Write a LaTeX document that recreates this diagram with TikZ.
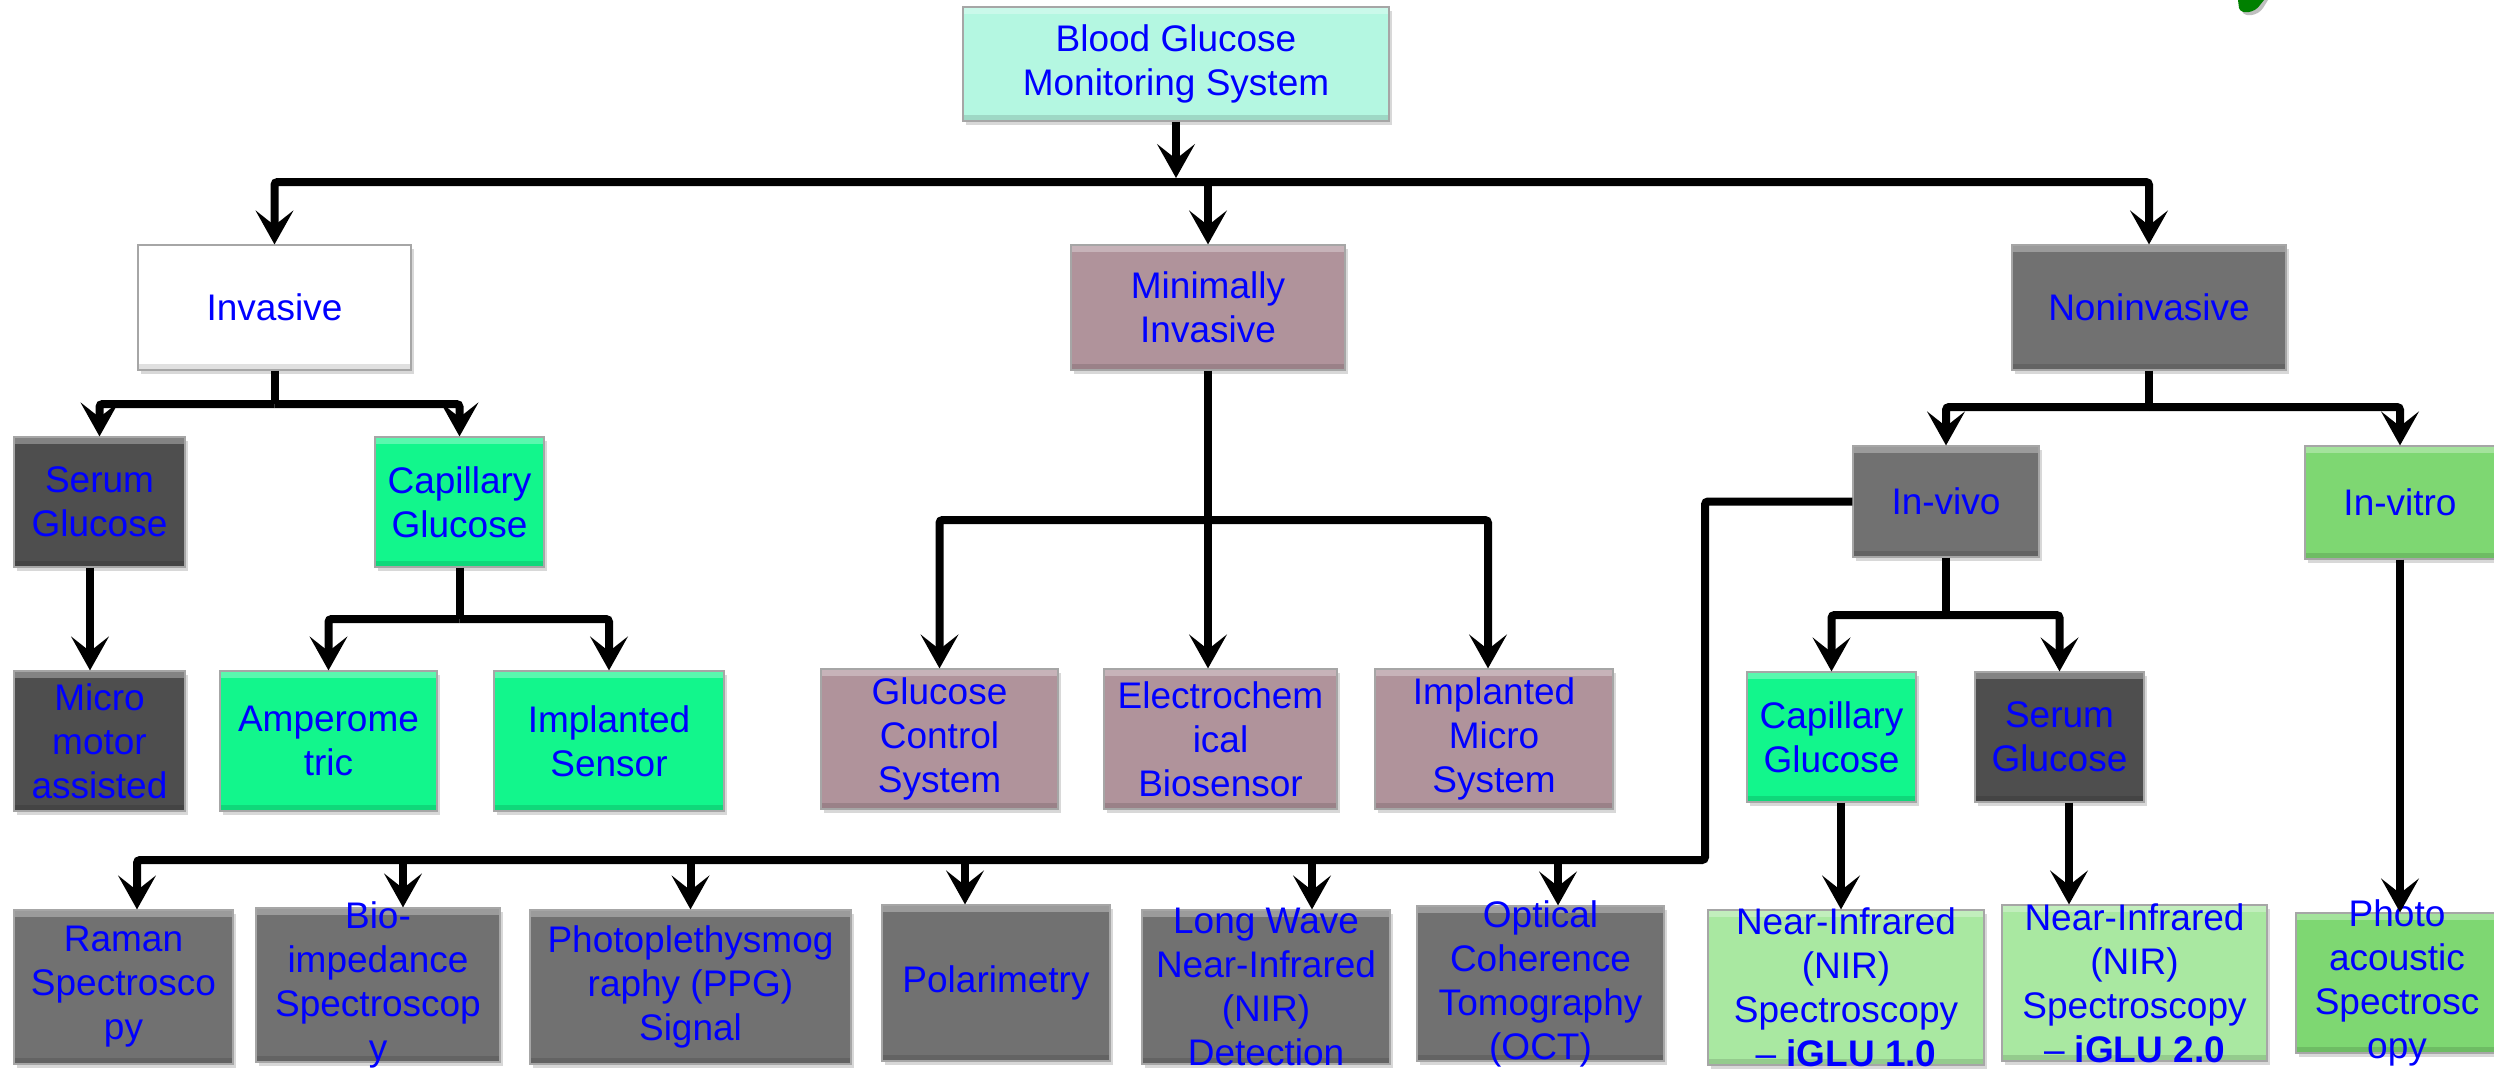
\documentclass[tikz,border=0pt]{standalone}
\usepackage{fontspec}
\setmainfont{Liberation Sans}
\usetikzlibrary{arrows.meta,shadows}

\definecolor{txtblue}{RGB}{0,0,255}
\definecolor{mint}{RGB}{180,247,225}
\definecolor{mauve}{RGB}{176,147,155}
\definecolor{midgray}{RGB}{113,113,113}
\definecolor{deepgray}{RGB}{78,78,78}
\definecolor{vividgreen}{RGB}{18,246,140}
\definecolor{palegreen}{RGB}{169,232,161}
\definecolor{leafgreen}{RGB}{126,215,114}
\definecolor{logogreen}{RGB}{0,128,0}

\tikzset{
  bx/.style={rectangle, draw=black!35, line width=1.2pt, inner sep=0pt,
    drop shadow={shadow xshift=3pt, shadow yshift=-4pt, opacity=0.3},
    path picture={
      \fill[white, opacity=0.3] (path picture bounding box.north west)
        rectangle ([yshift=-7pt]path picture bounding box.north east);
      \fill[black, opacity=0.12] ([yshift=6pt]path picture bounding box.south west)
        rectangle (path picture bounding box.south east);
    }},
  tx/.style={text=txtblue, font=\fontsize{37}{44}\selectfont, align=center, inner sep=0pt},
  ln/.style={line width=8pt, rounded corners=3pt},
  arr/.style={ln, -{Stealth[length=34pt, width=38pt, inset=15pt, line width=3pt]}},
}

% box: name, fill, centre x, centre y, width, height, text
\newcommand\placebox[7]{%
  \node[bx, fill=#2, minimum width=#5pt, minimum height=#6pt] (#1) at (#3,#4) {};
  \node[tx] (#1-t) at (#1.center) {#7};}

\begin{document}
\begin{tikzpicture}[x=1pt, y=-1pt]
\useasboundingbox (0,0) rectangle (2494,1074);
\fill[white] (0,0) rectangle (2494,1074);

% corner logo fragment
\fill[black!25] (2241,0) -- (2242,11) .. controls (2244,18) and (2258,16) .. (2263,8) -- (2268,0) -- cycle;
\fill[logogreen] (2238,0) -- (2239,8) .. controls (2241,15) and (2255,13) .. (2260,5) -- (2264,0) -- cycle;

% level 0 and 1
\placebox{top}{mint}{1176}{64}{426}{114}{Blood Glucose\\Monitoring System}
\placebox{inv}{white}{274.5}{307.5}{273}{125}{Invasive}
\placebox{mini}{mauve}{1208}{307.5}{274}{125}{Minimally\\Invasive}
\placebox{nonin}{midgray}{2149}{307.5}{274}{125}{Noninvasive}

% invasive branch
\placebox{serum1}{deepgray}{99.5}{502}{171}{130}{Serum\\Glucose}
\placebox{cap1}{vividgreen}{459.5}{502}{169}{130}{Capillary\\Glucose}
\placebox{micro}{deepgray}{99.5}{741}{171}{140}{Micro\\motor\\assisted}
\placebox{amp}{vividgreen}{328.5}{741}{217}{140}{Amperome\\tric}
\placebox{isens}{vividgreen}{609}{741}{230}{140}{Implanted\\Sensor}

% minimally invasive branch
\placebox{gcs}{mauve}{939.5}{739}{237}{140}{Glucose\\Control\\System}
\placebox{elec}{mauve}{1220.5}{739}{233}{140}{Electrochem\\ical\\Biosensor}
\placebox{ims}{mauve}{1494}{739}{238}{140}{Implanted\\Micro\\System}

% noninvasive branch
\placebox{invivo}{midgray}{1946}{501.5}{186}{111}{In-vivo}
\placebox{invitro}{leafgreen}{2400}{502.5}{190}{113}{In-vitro}
\placebox{cap2}{vividgreen}{1831.5}{737}{169}{130}{Capillary\\Glucose}
\placebox{serum2}{deepgray}{2059.5}{737}{169}{130}{Serum\\Glucose}
\placebox{nir1}{palegreen}{1846}{987.5}{276}{155}{Near-Infrared\\(NIR)\\Spectroscopy\\– \textbf{iGLU 1.0}}
\placebox{nir2}{palegreen}{2134.5}{983}{265}{156}{Near-Infrared\\(NIR)\\Spectroscopy\\– \textbf{iGLU 2.0}}
\placebox{photo}{leafgreen}{2397}{983}{202}{140}{Photo\\acoustic\\Spectrosc\\opy}

% in-vivo techniques
\placebox{raman}{midgray}{123.5}{987}{219}{154}{Raman\\Spectrosco\\py}
\placebox{bio}{midgray}{378}{985}{244}{154}{Bio-\\impedance\\Spectroscop\\y}
\placebox{ppg}{midgray}{690.5}{987}{321}{154}{Photoplethysmog\\raphy (PPG)\\Signal}
\placebox{pol}{midgray}{996}{983}{228}{156}{Polarimetry}
\placebox{lw}{midgray}{1266}{987}{248}{154}{Long Wave\\Near-Infrared\\(NIR)\\Detection}
\placebox{oct}{midgray}{1540.5}{983.5}{247}{155}{Optical\\Coherence\\Tomography\\(OCT)}

% bus levels
\coordinate (busA) at (0,182);
\coordinate (busB) at (0,404);
\coordinate (busC) at (0,619);
\coordinate (busD) at (0,520);
\coordinate (busE) at (0,407);
\coordinate (busF) at (0,615);
\coordinate (j0) at (1176,178);
\coordinate (kink) at (1705,860);

% top level
\draw[arr] (top.south) -- (j0);
\draw[arr] (mini.north |- busA) -| (inv.north);
\draw[arr] (mini.north |- busA) -| (nonin.north);
\draw[arr] (mini.north |- busA) -- (mini.north);

% invasive
\draw[ln] (inv.south) -- (inv.south |- busB);
\draw[arr] (inv.south |- busB) -| (serum1.north);
\draw[arr] (inv.south |- busB) -| (cap1.north);
\draw[arr] ([xshift=-9.5pt]serum1.south) -- ([xshift=-9.5pt]micro.north);
\draw[ln] (cap1.south) -- (cap1.south |- busC);
\draw[arr] (cap1.south |- busC) -| (amp.north);
\draw[arr] (cap1.south |- busC) -| (isens.north);

% minimally invasive
\draw[arr] (mini.south) -- (mini.south |- elec.north);
\draw[arr] (mini.south |- busD) -| (gcs.north);
\draw[arr] (mini.south |- busD) -| ([xshift=-6pt]ims.north);

% noninvasive
\draw[ln] (nonin.south) -- (nonin.south |- busE);
\draw[arr] (nonin.south |- busE) -| (invivo.north);
\draw[arr] (nonin.south |- busE) -| (invitro.north);
\draw[ln] (invivo.south) -- (invivo.south |- busF);
\draw[arr] (invivo.south |- busF) -| (cap2.north);
\draw[arr] (invivo.south |- busF) -| (serum2.north);
\draw[arr] ([xshift=9.5pt]cap2.south) -- ([xshift=-5pt]nir1.north);
\draw[arr] ([xshift=9.5pt]serum2.south) -- ([xshift=-65.5pt]nir2.north);
\draw[arr] (invitro.south) -- ([xshift=3pt]photo.north);

% in-vivo techniques bus
\coordinate (dRaman) at ([xshift=13.5pt]raman.north);
\coordinate (dBio) at ([xshift=25pt]bio.north);
\coordinate (dPPG) at (ppg.north);
\coordinate (dPol) at ([xshift=-31pt]pol.north);
\coordinate (dLW) at ([xshift=46pt]lw.north);
\coordinate (dOCT) at ([xshift=17.5pt]oct.north);
\draw[arr] (invivo.west) -| (kink) -- (dRaman |- kink) -- (dRaman);
\draw[arr] (dBio |- kink) -- (dBio);
\draw[arr] (dPPG |- kink) -- (dPPG);
\draw[arr] (dPol |- kink) -- (dPol);
\draw[arr] (dLW |- kink) -- (dLW);
\draw[arr] (dOCT |- kink) -- (dOCT);

\end{tikzpicture}
\end{document}
